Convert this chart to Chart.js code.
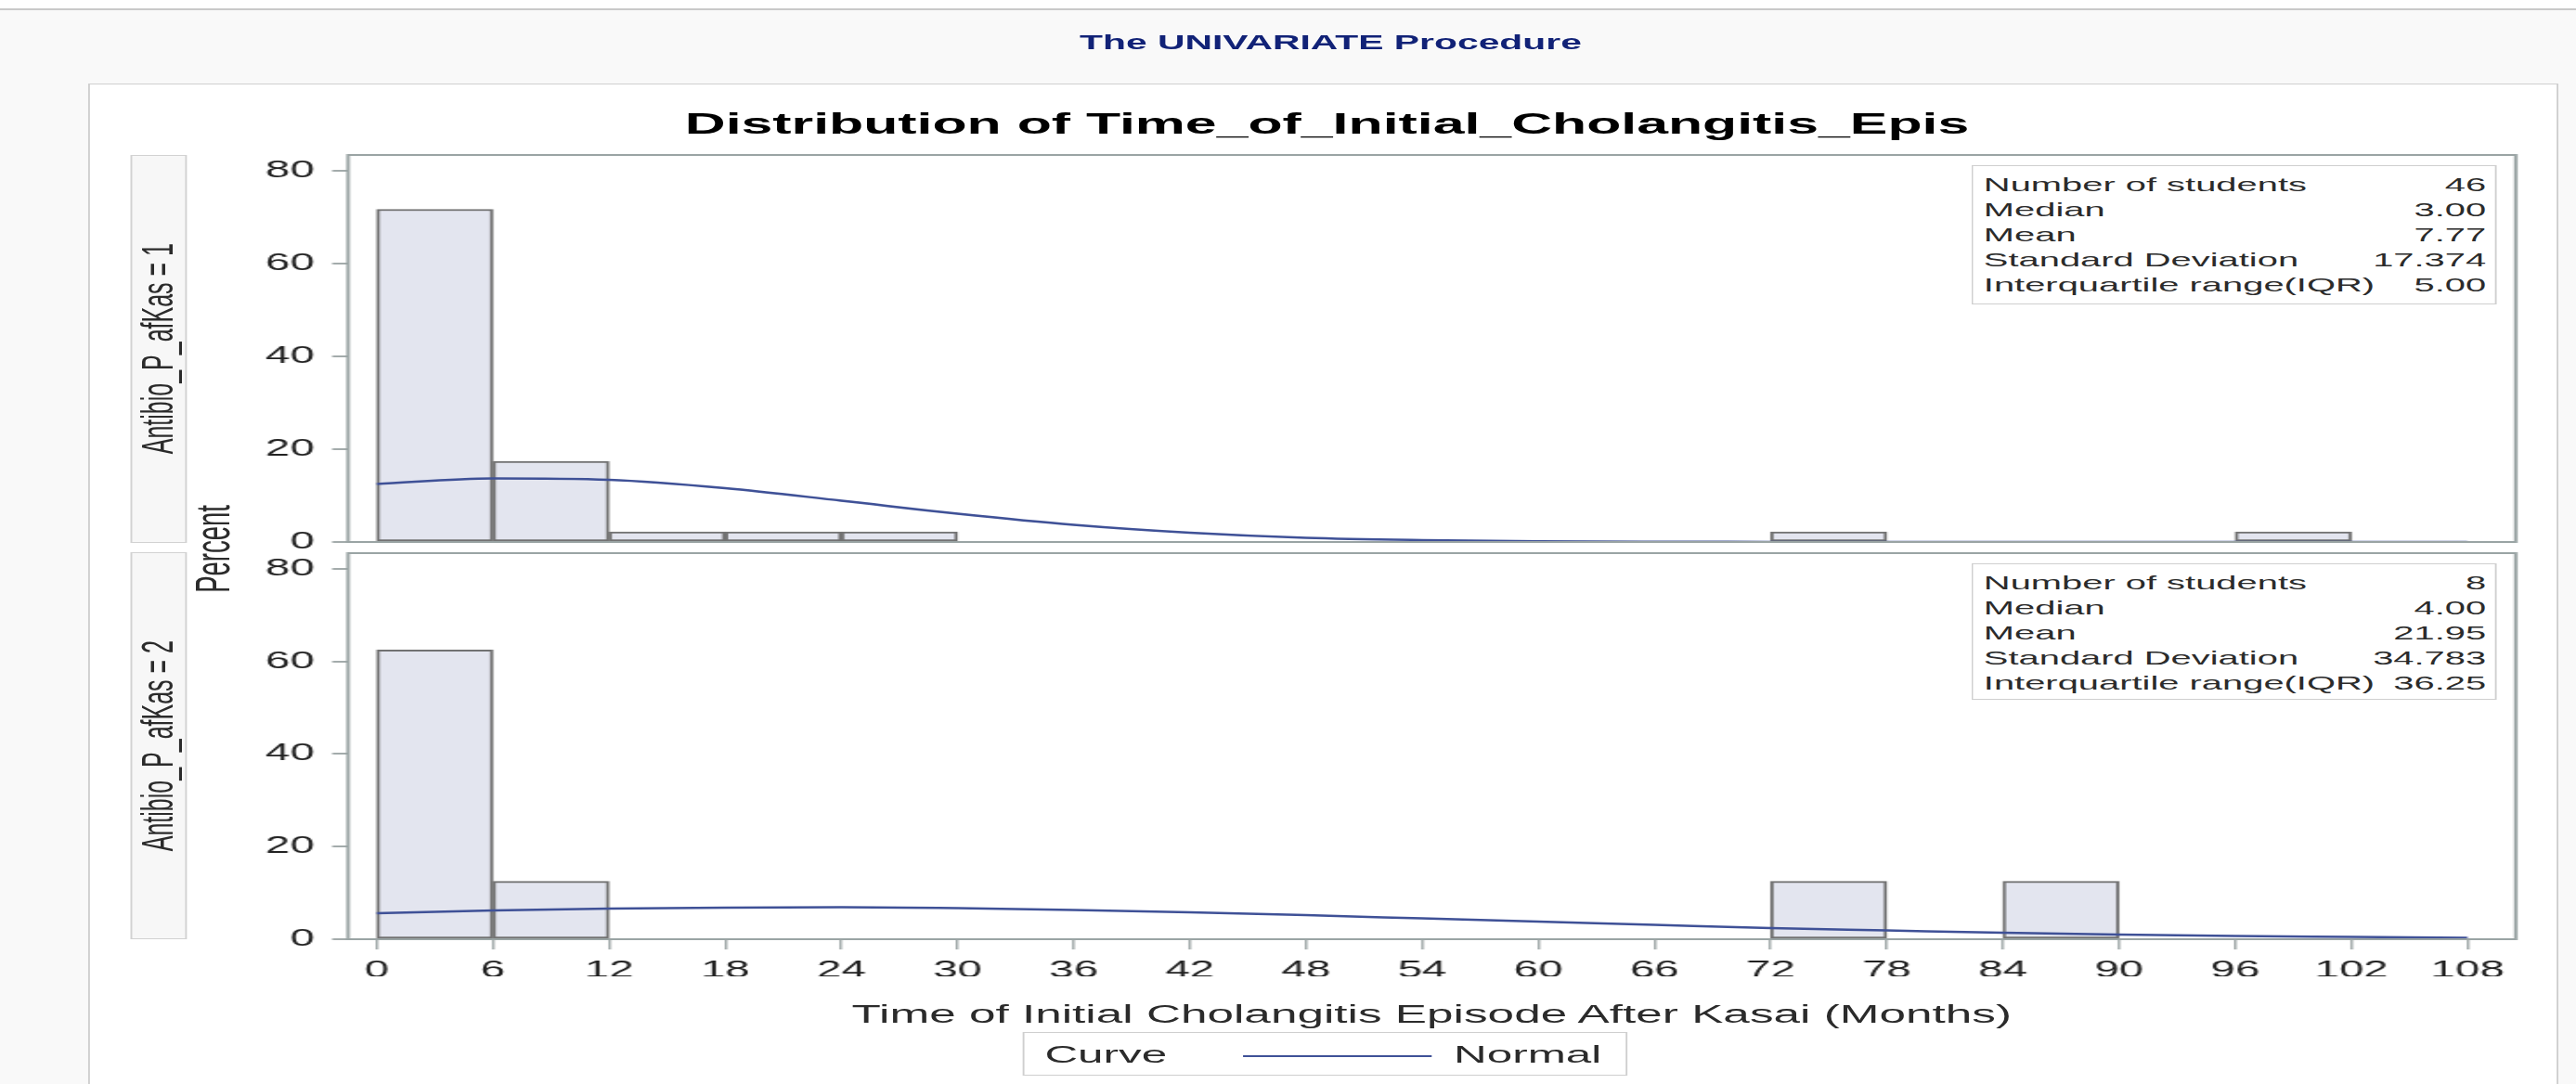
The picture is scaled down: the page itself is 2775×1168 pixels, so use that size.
<!DOCTYPE html>
<html>
<head>
<meta charset="utf-8">
<script src="https://cdn.jsdelivr.net/npm/chart.js@4.4.1/dist/chart.umd.min.js"></script>
<style>
html, body { margin: 0; padding: 0; }
body { width: 2775px; height: 1168px; background: #f9f9f9; overflow: hidden; position: relative;
       font-family: "Liberation Sans", Arial, sans-serif; }
#topband { position: absolute; left: 0; top: 0; width: 2775px; height: 9px; background: #fff; border-bottom: 2px solid #c9c9c9; }
/* the reference is stretched sideways, so everything is laid out narrow and scaled */
#stage { position: absolute; left: 0; top: 0; width: 1461px; height: 1168px; transform: scaleX(1.8994); transform-origin: 0 0; }
.center { position: absolute; transform: translate(-50%, -50%); white-space: nowrap; }
#proc { left: 754.7px; top: 46px; font-weight: bold; font-size: 21.5px; color: #112277; }
#box { position: absolute; left: 50px; top: 90px; width: 1401px; height: 1100px; background: #fff;
       border: 1.5px solid #cfcfcf; box-sizing: border-box; }
#title { left: 752.6px; top: 133px; font-weight: bold; font-size: 32px; color: #000; }
.strip { position: absolute; left: 73.7px; width: 32px; display: flex; align-items: center; justify-content: center;
         background: #f7f7f7; border: 1px solid #d2d2d2; box-sizing: border-box; }
.strip span, #percent span { writing-mode: vertical-rl; transform: rotate(180deg); white-space: nowrap; color: #2b2b2b; }
.strip span { font-size: 25px; }
#percent { position: absolute; left: 106px; width: 30px; top: 541px; height: 100px; display: flex; align-items: center; justify-content: center; }
#percent span { font-size: 27.5px; }
.stats { position: absolute; left: 1118px; width: 298px; background: #fff; border: 1px solid #cfcfcf;
         box-sizing: border-box; padding: 6px 5px 0 6px; font-size: 21px; color: #2b2b2b; }
.stats div { display: flex; justify-content: space-between; height: 27px; line-height: 27px; }
#xtitle { left: 812px; top: 1093px; font-size: 27px; color: #2b2b2b; }
#legend { position: absolute; left: 579.5px; top: 1112px; width: 343px; height: 47px; border: 1px solid #cfcfcf;
          box-sizing: border-box; font-size: 26px; color: #2b2b2b; }
#legend span { position: absolute; top: 50%; transform: translateY(-50%); white-space: nowrap; }
#legend i { position: absolute; left: 124px; top: 24px; width: 107px; height: 0; border-top: 2.5px solid #3f5197; }
canvas { position: absolute; left: 0; top: 0; }
</style>
</head>
<body>
<div id="topband"></div>
<div id="stage">
  <div id="proc" class="center">The UNIVARIATE Procedure</div>
  <div id="box"></div>
  <div id="title" class="center">Distribution of Time_of_Initial_Cholangitis_Epis</div>
  <div class="strip" style="top:167px;height:418px"><span>Antibio_P_afKas = 1</span></div>
  <div class="strip" style="top:595px;height:417px"><span>Antibio_P_afKas = 2</span></div>
  <div id="percent"><span>Percent</span></div>
  <canvas id="topChart" width="1461" height="1168"></canvas>
  <canvas id="bottomChart" width="1461" height="1168"></canvas>
  <div class="stats" id="stats1" style="top:178px;height:150px"></div>
  <div class="stats" id="stats2" style="top:607px;height:147px"></div>
  <div id="xtitle" class="center">Time of Initial Cholangitis Episode After Kasai (Months)</div>
  <div id="legend"><span style="left:12px">Curve</span><i></i><span style="left:244px">Normal</span></div>
</div>
<script>
// tick labels
const xTicks = [0, 6, 12, 18, 24, 30, 36, 42, 48, 54, 60, 66, 72, 78, 84, 90, 96, 102, 108];
const yTicks = [0, 20, 40, 60, 80];

// histogram bins (midpoints, 6 month wide) and percent of students
const group1BinMid = [3, 9, 15, 21, 27, 75, 99];
const group1Percent = [71.7, 17.4, 2.2, 2.2, 2.2, 2.2, 2.2];
const group2BinMid = [3, 9, 75, 87];
const group2Percent = [62.5, 12.5, 12.5, 12.5];

// fitted normal curve
const curveX = [0, 6, 12, 18, 24, 30, 36, 42, 48, 54, 60, 66, 72, 78, 84, 90, 96, 102, 108];
const group1Normal = [12.5, 13.7, 13.4, 11.6, 8.9, 6.1, 3.7, 2.0, 0.9, 0.4, 0.15, 0.05, 0.02, 0, 0, 0, 0, 0, 0];
const group2Normal = [5.6, 6.2, 6.6, 6.8, 6.9, 6.7, 6.3, 5.8, 5.2, 4.5, 3.8, 3.1, 2.4, 1.9, 1.4, 1.0, 0.7, 0.5, 0.3];

// inset statistics
const statLabels = ['Number of students', 'Median', 'Mean', 'Standard Deviation', 'Interquartile range(IQR)'];
const group1Stats = ['46', '3.00', '7.77', '17.374', '5.00'];
const group2Stats = ['8', '4.00', '21.95', '34.783', '36.25'];

function fillStats(id, values) {
  const box = document.getElementById(id);
  statLabels.forEach((label, i) => {
    const row = document.createElement('div');
    row.innerHTML = '<span>' + label + '</span><span>' + values[i] + '</span>';
    box.appendChild(row);
  });
}
fillStats('stats1', group1Stats);
fillStats('stats2', group2Stats);

const tickFont = { family: '"Liberation Sans", Arial, sans-serif', size: 25 };
const axisGray = '#a3abab';

const framePlugin = {
  id: 'frame',
  afterDatasetsDraw(chart) {
    const { ctx, chartArea: a } = chart;
    ctx.save();
    ctx.strokeStyle = '#9aa4a4';
    ctx.lineWidth = 2;
    ctx.strokeRect(a.left, a.top, a.right - a.left, a.bottom - a.top);
    ctx.restore();
  }
};

function makePanel(canvasId, binMid, percent, normal, showX, padding) {
  return new Chart(document.getElementById(canvasId), {
    type: 'bar',
    data: {
      datasets: [
        {
          type: 'line',
          data: curveX.map((x, i) => ({ x: x, y: normal[i] })),
          borderColor: '#3f5197',
          borderWidth: 2.5,
          pointRadius: 0,
          cubicInterpolationMode: 'monotone',
          fill: false,
          order: 1
        },
        {
          type: 'bar',
          data: binMid.map((x, i) => ({ x: x, y: percent[i] })),
          backgroundColor: '#e3e5ef',
          borderColor: '#727272',
          borderWidth: 2,
          borderSkipped: false,
          barPercentage: 1,
          categoryPercentage: 1,
          order: 2
        }
      ]
    },
    options: {
      responsive: false,
      animation: false,
      layout: { padding: padding },
      plugins: { legend: { display: false }, tooltip: { enabled: false } },
      scales: {
        x: {
          type: 'linear',
          display: showX,
          offset: false,
          min: -1.48,
          max: 110.49,
          afterBuildTicks: s => { s.ticks = xTicks.map(v => ({ value: v })); },
          afterFit: s => { s.height = showX ? 40 : 0; },
          grid: { display: true, offset: false, drawOnChartArea: false, drawTicks: true, tickLength: 11, color: axisGray, lineWidth: 1.5 },
          border: { display: false },
          ticks: { autoSkip: false, maxRotation: 0, font: tickFont, color: '#222', padding: 8 }
        },
        y: {
          min: 0,
          max: 83.4,
          afterBuildTicks: s => { s.ticks = yTicks.map(v => ({ value: v })); },
          afterFit: s => { s.width = 60; },
          grid: { display: true, drawOnChartArea: false, drawTicks: true, tickLength: 9, color: axisGray, lineWidth: 2 },
          border: { display: false },
          ticks: { font: tickFont, color: '#222', padding: 10 }
        }
      }
    },
    plugins: [framePlugin]
  });
}

makePanel('topChart', group1BinMid, group1Percent, group1Normal, false,
  { left: 137.4, right: 34.2, top: 167, bottom: 584 });
makePanel('bottomChart', group2BinMid, group2Percent, group2Normal, true,
  { left: 137.4, right: 34.2, top: 596, bottom: 116 });
</script>
</body>
</html>
